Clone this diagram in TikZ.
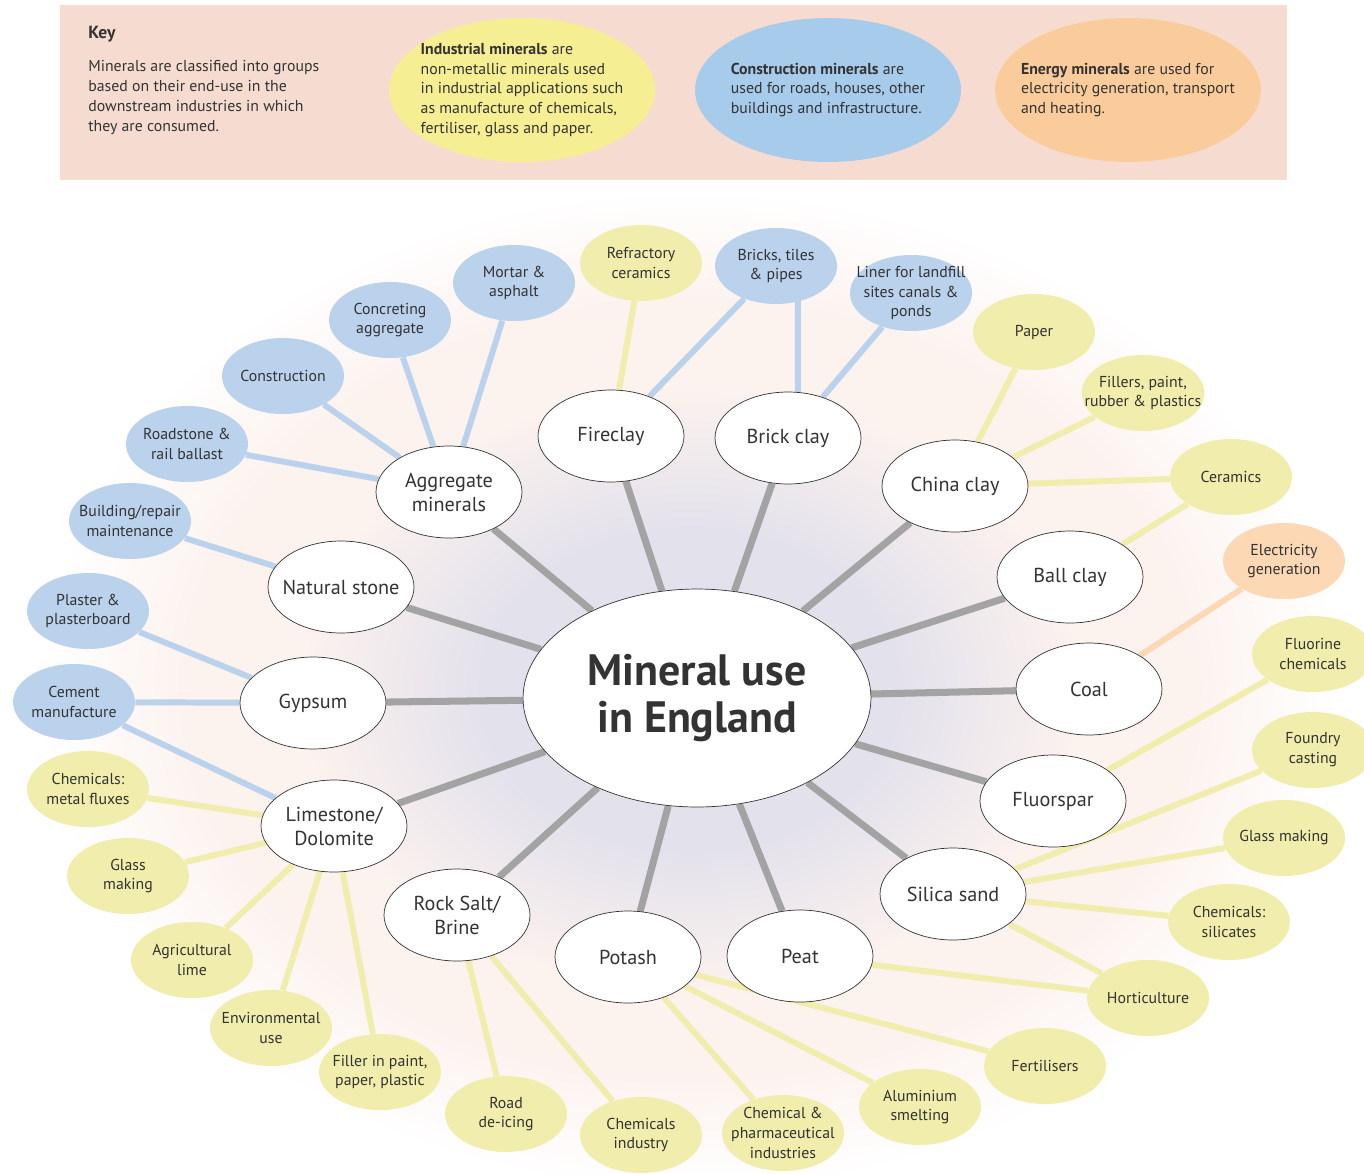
\documentclass[tikz,border=0pt]{standalone}
\usepackage{fontspec}
\setmainfont{PT Sans}
\usepackage{xcolor}
\usepackage{tikz}
\usetikzlibrary{shapes.geometric, positioning, backgrounds}

\definecolor{keybg}{RGB}{246,220,208}
\definecolor{indkey}{RGB}{245,238,146}
\definecolor{conkey}{RGB}{167,203,234}
\definecolor{enekey}{RGB}{251,204,155}
\definecolor{induse}{RGB}{241,237,172}
\definecolor{conuse}{RGB}{186,210,236}
\definecolor{eneuse}{RGB}{252,216,180}
\definecolor{linkgrey}{RGB}{163,163,163}
\definecolor{inktext}{RGB}{51,51,51}
\definecolor{glowlav}{RGB}{227,225,236}
\definecolor{glowpink}{RGB}{252,242,238}

\pgfdeclareradialshading{glow}{\pgfpoint{0bp}{0bp}}{color(0bp)=(glowlav); color(8bp)=(glowlav); color(15bp)=(glowpink); color(19bp)=(glowpink); color(25bp)=(white); color(50bp)=(white)}

\tikzstyle{mineral} = [ellipse, draw=black!80, thin, fill=white, minimum width=2.92cm, minimum height=1.84cm, inner sep=-0.3cm, align=center, font=\fontsize{11.5}{13.6}\selectfont]
\tikzstyle{use} = [ellipse, minimum width=2.44cm, minimum height=1.52cm, inner sep=-0.3cm, align=center, font=\fontsize{9}{11.3}\selectfont]
\tikzstyle{industrial} = [use, fill=induse]
\tikzstyle{construction} = [use, fill=conuse]
\tikzstyle{energy} = [use, fill=eneuse]
\tikzstyle{keyblob} = [ellipse, minimum width=5.32cm, minimum height=2.88cm, inner sep=-0.5cm, align=left, font=\fontsize{9}{11.3}\selectfont]
\tikzstyle{trunk} = [line width=4pt, draw=linkgrey]
\tikzstyle{indlink} = [line width=3.4pt, draw=induse]
\tikzstyle{conlink} = [line width=3.4pt, draw=conuse]
\tikzstyle{enelink} = [line width=3.4pt, draw=eneuse]

\begin{document}
\begin{tikzpicture}[x=0.02cm, y=-0.02cm, text=inktext]
    \useasboundingbox (0,0) rectangle (1364,1173);

    % Key
    \fill[keybg] (60,5) rectangle (1287,180);
    \node[anchor=west, inner sep=0pt, font=\fontsize{10}{12}\selectfont\bfseries] (keytitle) at (88,34) {Key};
    \node[below right=0.36cm and 0cm of keytitle.south west, inner sep=0pt, align=left, font=\fontsize{9}{11.3}\selectfont] (keytext) {Minerals are classified into groups\\based on their end-use in the\\downstream industries in which\\they are consumed.};
    \node[keyblob, fill=indkey] (keyind) at (522,90) {\textbf{Industrial minerals} are\\non-metallic minerals used\\in industrial applications such\\as manufacture of chemicals,\\fertiliser, glass and paper.};
    \node[keyblob, fill=conkey] (keycon) at (828,90) {\textbf{Construction minerals} are\\used for roads, houses, other\\buildings and infrastructure.};
    \node[keyblob, fill=enekey] (keyene) at (1128,90) {\textbf{Energy minerals} are used for\\electricity generation, transport\\and heating.};

    % Centre
    \node[ellipse, draw=black!80, thin, fill=white, minimum width=6.96cm, minimum height=4.36cm, inner sep=0pt, align=center, font=\fontsize{25}{27}\selectfont\bfseries] (centre) at (697,698) {Mineral use\\in England};

    % Minerals
    \node[mineral] (aggregate) at (449,492) {Aggregate\\minerals};
    \node[mineral] (fireclay) at (611,436) {Fireclay};
    \node[mineral] (brickclay) at (788,438) {Brick clay};
    \node[mineral] (chinaclay) at (955,486) {China clay};
    \node[mineral] (ballclay) at (1070,577) {Ball clay};
    \node[mineral] (coal) at (1089,689) {Coal};
    \node[mineral] (fluorspar) at (1053,801) {Fluorspar};
    \node[mineral] (silica) at (953,894) {Silica sand};
    \node[mineral] (peat) at (800,956) {Peat};
    \node[mineral] (potash) at (628,957) {Potash};
    \node[mineral] (rocksalt) at (457,915) {Rock Salt/\\Brine};
    \node[mineral] (limestone) at (334,826) {Limestone/\\Dolomite};
    \node[mineral] (gypsum) at (313,703) {Gypsum};
    \node[mineral] (natstone) at (341,587) {Natural stone};

    % Construction uses
    \node[construction] (mortar) at (514,283) {Mortar \&\\asphalt};
    \node[construction] (concreting) at (390,320) {Concreting\\aggregate};
    \node[construction] (construct) at (283,376) {Construction};
    \node[construction] (roadstone) at (187,444) {Roadstone \&\\rail ballast};
    \node[construction] (building) at (130,521) {Building/repair\\maintenance};
    \node[construction] (plaster) at (88,611) {Plaster \&\\plasterboard};
    \node[construction] (cement) at (74,702) {Cement\\manufacture};
    \node[construction] (bricks) at (776,266) {Bricks, tiles\\\& pipes};
    \node[construction] (liner) at (911,293) {Liner for landfill\\sites canals \&\\ponds};

    % Industrial uses
    \node[industrial] (refractory) at (641,263) {Refractory\\ceramics};
    \node[industrial] (paper) at (1034,332) {Paper};
    \node[industrial] (fillers) at (1143,393) {Fillers, paint,\\rubber \& plastics};
    \node[industrial] (ceramics) at (1231,477) {Ceramics};
    \node[industrial] (fluorine) at (1313,654) {Fluorine\\chemicals};
    \node[industrial] (foundry) at (1313,750) {Foundry\\casting};
    \node[industrial] (glassR) at (1284,838) {Glass making};
    \node[industrial] (silicates) at (1229,922) {Chemicals:\\silicates};
    \node[industrial] (horticulture) at (1148,998) {Horticulture};
    \node[industrial] (fertilisers) at (1045,1066) {Fertilisers};
    \node[industrial] (aluminium) at (920,1107) {Aluminium\\smelting};
    \node[industrial] (pharma) at (783,1133) {Chemical \&\\pharmaceutical\\industries};
    \node[industrial] (chemind) at (641,1135) {Chemicals\\industry};
    \node[industrial] (deicing) at (506,1114) {Road\\de-icing};
    \node[industrial] (filler) at (380,1072) {Filler in paint,\\paper, plastic};
    \node[industrial] (environ) at (271,1028) {Environmental\\use};
    \node[industrial] (agrilime) at (192,960) {Agricultural\\lime};
    \node[industrial] (glassL) at (128,876) {Glass\\making};
    \node[industrial] (fluxes) at (88,789) {Chemicals:\\metal fluxes};

    % Energy use
    \node[energy] (electricity) at (1284,561) {Electricity\\generation};

    \begin{pgfonlayer}{background}
        % Glow
        \shade[shading=glow] (690,690) ellipse [x radius=13cm, y radius=10cm];

        % Centre to minerals
        \draw[trunk] (centre) -- (aggregate) (centre) -- (fireclay) (centre) -- (brickclay) (centre) -- (chinaclay)
            (centre) -- (ballclay) (centre) -- (coal) (centre) -- (fluorspar) (centre) -- (silica)
            (centre) -- (peat) (centre) -- (potash) (centre) -- (rocksalt) (centre) -- (limestone)
            (centre) -- (gypsum) (centre) -- (natstone);

        % Construction links
        \draw[conlink] (aggregate) -- (mortar) (aggregate) -- (concreting) (aggregate) -- (construct) (aggregate) -- (roadstone);
        \draw[conlink] (natstone) -- (building) (gypsum) -- (plaster) (gypsum) -- (cement) (limestone) -- (cement);
        \draw[conlink] (fireclay) -- (bricks) (brickclay.78) -- (brickclay.78 |- bricks.center) (brickclay) -- (liner);

        % Industrial links
        \draw[indlink] (fireclay) -- (refractory);
        \draw[indlink] (chinaclay) -- (paper) (chinaclay) -- (fillers) (chinaclay) -- (ceramics) (ballclay) -- (ceramics);
        \draw[indlink] (fluorspar) -- (fluorine);
        \draw[indlink] (silica) -- (foundry) (silica) -- (glassR) (silica) -- (silicates) (silica) -- (horticulture) (peat) -- (horticulture);
        \draw[indlink] (potash) -- (fertilisers) (potash) -- (aluminium) (potash) -- (pharma);
        \draw[indlink] (rocksalt) -- (chemind) (rocksalt) -- (deicing);
        \draw[indlink] (limestone) -- (filler) (limestone) -- (environ) (limestone) -- (agrilime) (limestone) -- (glassL) (limestone) -- (fluxes);

        % Energy link
        \draw[enelink] (coal) -- (electricity);
    \end{pgfonlayer}
\end{tikzpicture}
\end{document}
